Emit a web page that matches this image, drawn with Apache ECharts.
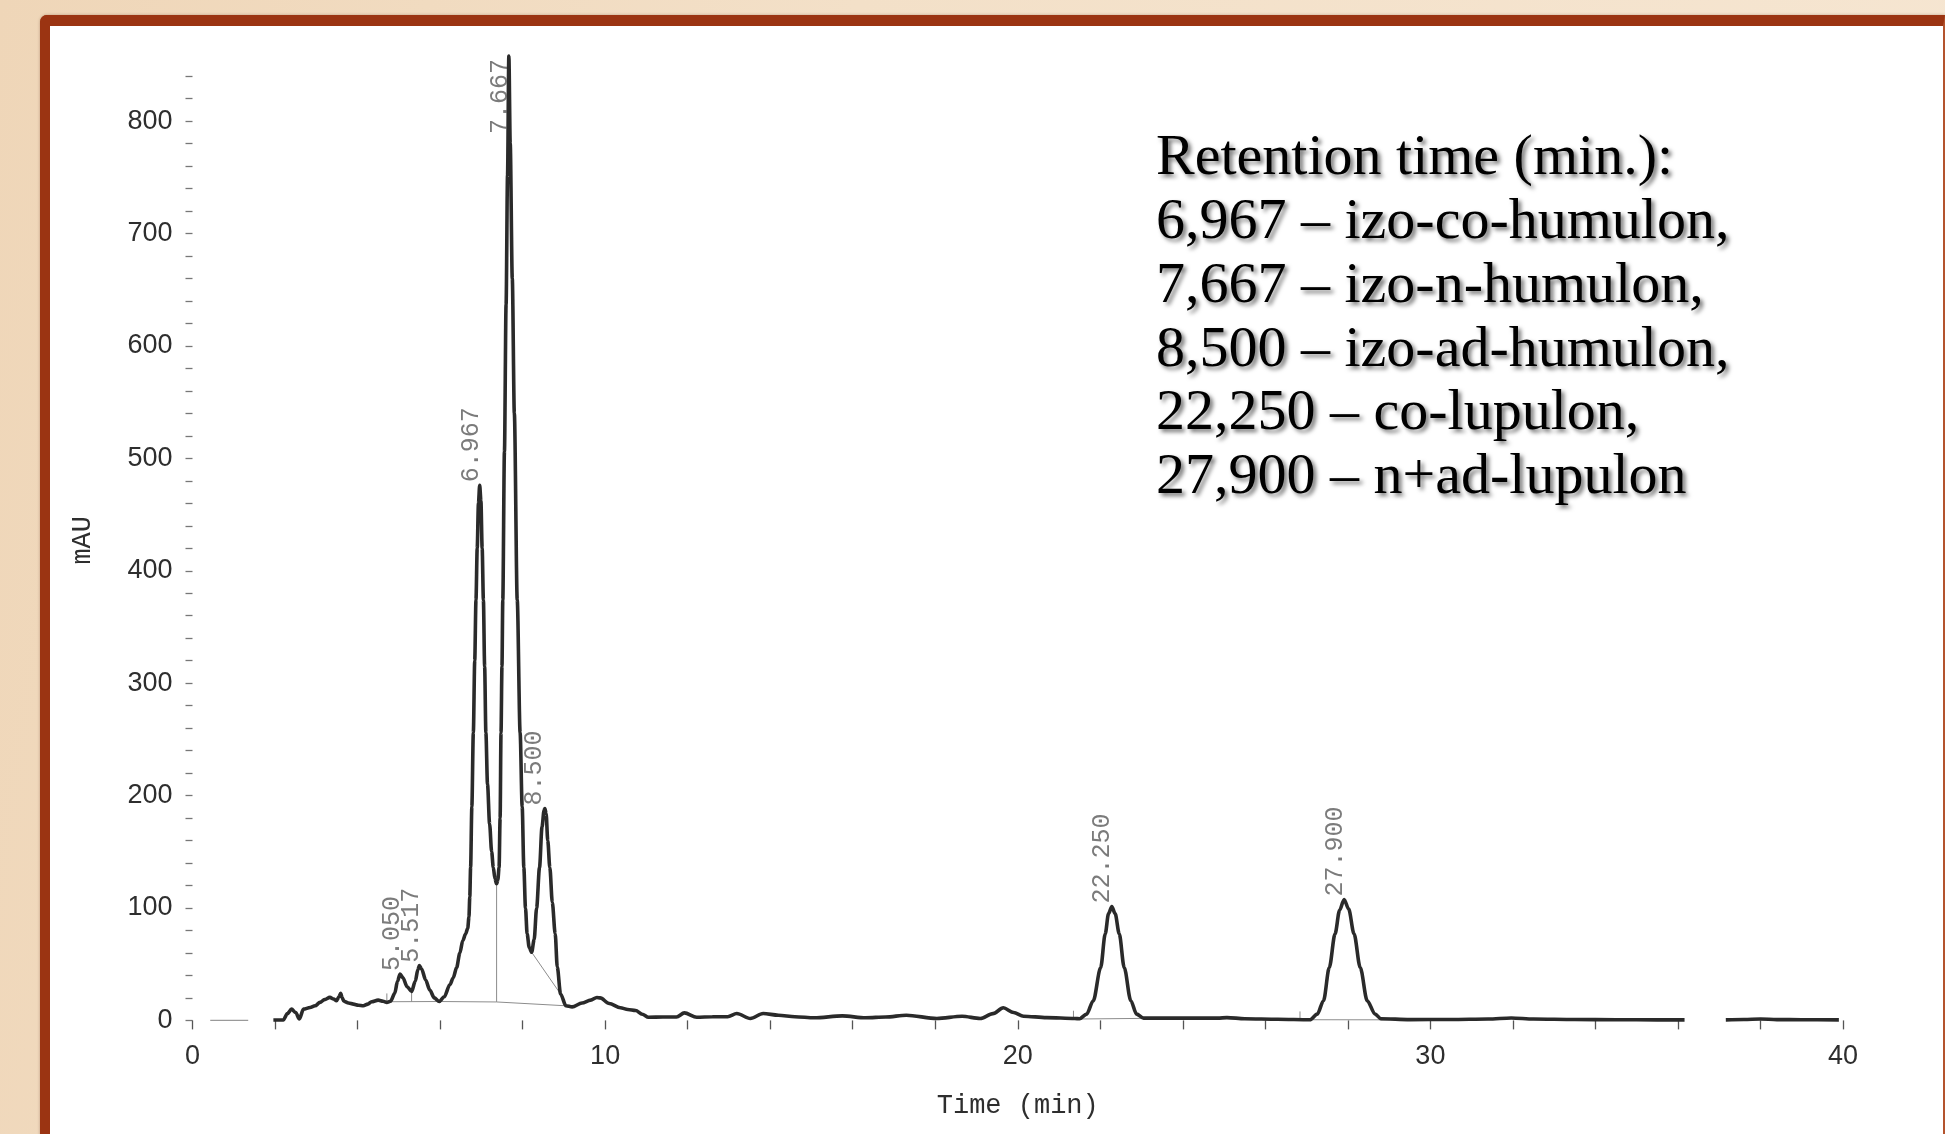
<!DOCTYPE html>
<html>
<head>
<meta charset="utf-8">
<script src="https://cdn.jsdelivr.net/npm/echarts@6/dist/echarts.min.js"></script>
<style>
  html, body { margin: 0; padding: 0; width: 1945px; height: 1134px; overflow: hidden; }
  body { background: linear-gradient(100deg, #efd6b8 0%, #f3e0c8 40%, #f6e6d2 100%); position: relative; }
  #frame {
    position: absolute; left: 40px; top: 15px; width: 1905px; height: 1150px;
    box-sizing: border-box; background: #ffffff;
    border-left: 10px solid #9b3412; border-top: 11px solid #9b3412; border-right: 2px solid #b4542e;
    border-top-left-radius: 7px;
    box-shadow: 0 0 3px rgba(90, 40, 10, 0.35);
  }
  #chart { position: absolute; left: 0; top: 0; width: 1945px; height: 1134px; }
</style>
</head>
<body>
<div id="frame"></div>
<div id="chart"></div>
<script>
// ---- data ----
const time = [
  1.96, 2.20, 2.30, 2.40, 2.50, 2.59, 2.69, 2.85, 2.97, 3.09, 3.20, 3.33, 3.42, 3.49, 3.55, 3.59, 3.63, 3.67, 3.78, 3.90,
  4.02, 4.14, 4.25, 4.34, 4.50, 4.62, 4.71, 4.80, 4.90, 4.97, 5.03, 5.10, 5.20, 5.31, 5.40, 5.46, 5.50, 5.55, 5.65, 5.75,
  5.86, 5.98, 6.10, 6.24, 6.32, 6.40, 6.48, 6.55, 6.62, 6.67, 6.70, 6.72, 6.74, 6.77, 6.806, 6.84, 6.87, 6.90, 6.93, 6.96,
  6.99, 7.02, 7.05, 7.08, 7.11, 7.15, 7.20, 7.25, 7.29, 7.33, 7.37, 7.40, 7.43, 7.455, 7.477, 7.50, 7.52, 7.56, 7.60, 7.635,
  7.667, 7.70, 7.75, 7.80, 7.87, 7.94, 7.99, 8.03, 8.07, 8.11, 8.16, 8.22, 8.28, 8.34, 8.41, 8.47, 8.52, 8.54, 8.57, 8.61,
  8.66, 8.72, 8.79, 8.84, 8.92, 9.05, 9.20, 9.44, 9.65, 9.80, 9.88, 10.10, 10.37, 10.55, 10.74, 10.90, 11.05, 11.40, 11.73, 11.92,
  12.22, 12.60, 12.97, 13.19, 13.52, 13.83, 14.20, 14.60, 15.07, 15.75, 16.31, 16.80, 17.30, 18.04, 18.65, 19.09, 19.40, 19.65, 19.90, 20.14,
  20.70, 21.38, 21.50, 21.67, 21.83, 22.01, 22.12, 22.20, 22.28, 22.36, 22.46, 22.58, 22.74, 22.88, 23.05, 23.60, 24.20, 24.85, 25.07, 25.50,
  26.30, 27.08, 27.26, 27.41, 27.55, 27.69, 27.80, 27.91, 28.02, 28.15, 28.30, 28.47, 28.66, 28.80, 29.50, 30.50, 31.40, 31.96, 32.50, 33.50,
  34.50, 35.50, 36.16, 36.66, 37.16, 37.60, 38.00, 38.40, 39.00, 39.90
];
const signal = [
  0.3, 0.3, 6, 10, 7, 1.2, 10, 11.5, 13, 16, 18.5, 20.5, 19, 17.5, 21, 24, 20, 17, 15.5, 14.5,
  13.5, 13, 14.5, 16.6, 18, 17, 16, 17, 24, 35, 41.3, 38, 30, 25.8, 35, 45, 48.7, 46, 36, 27,
  20, 16.9, 21, 32, 38, 47, 60, 71, 77, 82, 92, 110, 136, 190, 256, 320, 374, 420, 460, 476,
  462, 420, 374, 315, 256, 210, 175, 150, 136, 126, 121.6, 125, 136, 180, 256, 315, 374, 506, 637, 752,
  858, 780, 660, 540, 374, 256, 190, 136, 100, 77, 65, 60.6, 72, 100, 136, 172, 187, 188.5, 184, 160,
  136, 105, 77, 47.6, 23.5, 13, 12, 15.5, 18, 20.4, 20, 15, 11.2, 9.7, 8.8, 5.5, 2.8, 3, 3, 6.7,
  2.8, 3.2, 3.3, 6.1, 1.7, 6.1, 4.6, 3.2, 2.3, 4, 2.3, 3, 4.6, 1.7, 3.7, 1.7, 6, 11.2, 7, 3.7,
  2.5, 1.7, 1.5, 5.6, 17.5, 47, 77, 95, 101.3, 95, 77, 47, 17.5, 5.6, 2, 2, 2, 2, 2.5, 1.5,
  1, 0.6, 5.6, 17.5, 47, 77, 98, 107.6, 99, 77, 47, 17.5, 5.6, 1.5, 0.7, 0.8, 1.2, 2.2, 1.2, 0.8,
  0.6, 0.5, 0.5, null, 0.5, 0.8, 1.3, 0.7, 0.6, 0.5
];
// faint pre-run trace near zero
const preRunTime = [0.43, 1.35];
const preRunSignal = [0, 0];
// integration baselines / drop lines drawn by the integrator
const integrationLines = [
  [[4.71, 16.6], [5.98, 16.8], [7.37, 16.4], [9.05, 13]],
  [[4.71, 16.6], [4.71, 24]],
  [[5.31, 25.8], [5.31, 16.7]],
  [[7.37, 121.6], [7.37, 16.4]],
  [[8.22, 60.6], [8.92, 23.5]],
  [[21.35, 1.2], [23.05, 1.8]],
  [[21.35, 1.2], [21.35, 8.6]],
  [[26.84, 0.6], [29.2, 0.5]],
  [[26.84, 0.6], [26.84, 8]]
];
// peak retention-time labels
const peakTimes = [5.050, 5.517, 6.967, 7.667, 8.500, 22.250, 27.900];
const peakLabelHeights = [41.3, 48.7, 476, 786, 188.5, 101.3, 107.6];
// axis ticks
const xTicks = [0, 10, 20, 30, 40];
const yTicks = [0, 100, 200, 300, 400, 500, 600, 700, 800];
// annotation
const annotationLines = [
  'Retention time (min.):',
  '6,967 \u2013 izo-co-humulon,',
  '7,667 \u2013 izo-n-humulon,',
  '8,500 \u2013 izo-ad-humulon,',
  '22,250 \u2013 co-lupulon,',
  '27,900 \u2013 n+ad-lupulon'
];

const traceData = time.map((t, i) => [t, signal[i]]);
const preRunData = preRunTime.map((t, i) => [t, preRunSignal[i]]);
const labelData = peakTimes.map((t, i) => [t, peakLabelHeights[i]]);

const chart = echarts.init(document.getElementById('chart'), null, { renderer: 'canvas' });

const series = [];
integrationLines.forEach(seg => {
  series.push({
    type: 'line', data: seg, symbol: 'none', silent: true, clip: false,
    lineStyle: { color: '#8c8c8c', width: 1 }, z: 1
  });
});
series.push({
  type: 'line', data: preRunData, symbol: 'none', silent: true,
  lineStyle: { color: '#9a9a9a', width: 1.2 }, z: 1
});
series.push({
  type: 'line', data: traceData, symbol: 'none', clip: false, connectNulls: false,
  smooth: 0.3, smoothMonotone: 'x',
  lineStyle: { color: '#2a2a2a', width: 3.6 }, z: 3
});
series.push({
  type: 'scatter', data: labelData, symbolSize: 0, clip: false, silent: true, z: 4,
  label: {
    show: true, position: 'inside', rotate: 90, align: 'left', verticalAlign: 'bottom',
    lineHeight: 17, padding: [0, 0, 0, 3],
    fontFamily: '"Liberation Mono", "DejaVu Sans Mono", monospace', fontSize: 25, color: '#5a5a5a',
    formatter: p => p.value[0].toFixed(3)
  }
});

chart.setOption({
  animation: false,
  backgroundColor: 'transparent',
  grid: { left: 192.5, right: 102, top: 76.2, bottom: 113.6, containLabel: false },
  xAxis: {
    type: 'value', min: 0, max: 40, interval: 2,
    axisLine: { show: false },
    axisTick: { show: true, inside: false, length: 9, lineStyle: { color: '#555', width: 1.3 } },
    splitLine: { show: false },
    axisLabel: {
      margin: 23, fontSize: 27, color: '#2e2e2e', fontFamily: '"Liberation Sans", Arial, sans-serif',
      formatter: v => (xTicks.indexOf(v) >= 0 ? String(v) : '')
    },
    name: 'Time (min)', nameLocation: 'middle', nameGap: 72,
    nameTextStyle: { fontFamily: '"Liberation Mono", "DejaVu Sans Mono", monospace', fontSize: 27, color: '#2e2e2e' }
  },
  yAxis: {
    type: 'value', min: 0, max: 840, interval: 20,
    axisLine: { show: false },
    axisTick: { show: true, inside: false, length: 7, lineStyle: { color: '#777', width: 1.3 } },
    splitLine: { show: false },
    axisLabel: {
      margin: 20, fontSize: 27, color: '#2e2e2e', fontFamily: '"Liberation Sans", Arial, sans-serif',
      formatter: v => (yTicks.indexOf(v) >= 0 ? String(v) : '')
    },
    name: 'mAU', nameLocation: 'middle', nameGap: 96,
    nameTextStyle: { fontFamily: '"Liberation Mono", "DejaVu Sans Mono", monospace', fontSize: 27, color: '#2e2e2e', padding: [0, 0, 0, 16] }
  },
  graphic: [{
    type: 'text', left: 1156, top: 127, z: 10, silent: true,
    style: {
      text: annotationLines.join('\n'),
      fontFamily: '"Liberation Serif", "Times New Roman", serif',
      fontSize: 58, lineHeight: 63.8, fill: '#000',
      textShadowColor: 'rgba(0,0,0,0.55)', textShadowBlur: 4, textShadowOffsetX: 3, textShadowOffsetY: 3
    }
  }],
  series: series
});
</script>
</body>
</html>
